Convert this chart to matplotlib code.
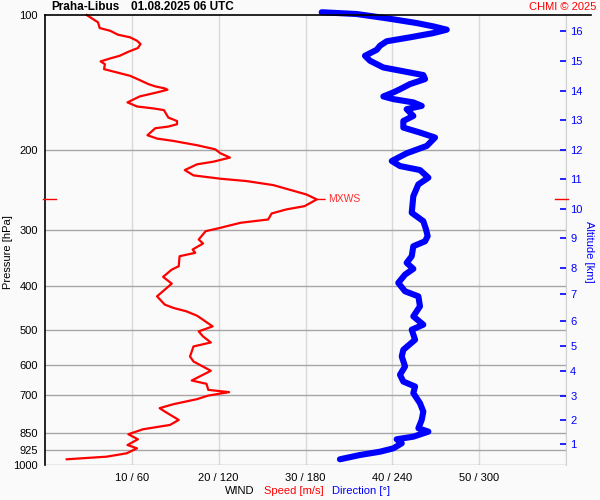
import matplotlib
matplotlib.use("Agg")
import matplotlib.pyplot as plt
import matplotlib.ticker as mticker
from matplotlib.lines import Line2D
import matplotlib.transforms as mtransforms

plt.rcParams['font.family'] = ['Liberation Sans', 'DejaVu Sans']

# ---------------- data ----------------
station = "Praha-Libus"
stamp = "01.08.2025 06 UTC"

speed_p = [100, 103.8, 106.9, 108.4, 110.6, 112.1, 114.1, 116.0, 118.4, 120.7,
           123.2, 124.9, 126.8, 128.6, 131.9, 134.2, 136.5, 139.5, 142.4, 144.1,
           145.6, 146.6, 148.6, 151.7, 156.4, 159.7, 161.3, 162.7, 169.0, 172.0,
           174.9, 177.0, 178.5, 185.0, 188.2, 190.5, 194.7, 198.8, 202.9, 207.4,
           211.8, 214.7, 221.1, 227.2, 231.1, 233.9, 238.8, 248.3, 250.5, 256.9,
           265.9, 270.4, 276.1, 284.7, 289.6, 297.1, 302.3, 315.4, 322.0, 332.0,
           337.7, 343.6, 361.7, 367.9, 381.9, 395.3, 407.6, 421.9, 440.2, 447.7,
           455.6, 465.8, 471.3, 492.0, 504.8, 518.0, 534.2, 545.2, 573.9, 588.8,
           617.5, 649.0, 660.1, 680.8, 688.8, 701.0, 714.0, 732.5, 747.6, 760.8,
           794.0, 814.6, 832.8, 854.4, 876.7, 902.8, 918.3, 941.9, 958.3, 971.2]
speed_ms = [4.8, 6.1, 6.3, 7.5, 8.4, 9.8, 10.6, 11.0, 10.7, 9.6,
            8.6, 7.5, 6.4, 6.9, 6.8, 8.3, 9.8, 10.9, 11.9, 12.7,
            13.8, 14.1, 12.9, 10.9, 9.5, 10.6, 12.5, 13.7, 14.2, 15.2,
            15.2, 14.2, 12.7, 11.8, 12.9, 14.8, 17.5, 19.6, 20.2, 21.3,
            19.4, 17.5, 16.1, 17.1, 20.2, 23.2, 26.3, 29.4, 30.1, 31.3,
            29.9, 27.8, 26.1, 25.7, 22.5, 20.2, 18.5, 17.7, 18.2, 17.0,
            17.3, 15.5, 15.4, 14.6, 13.6, 14.6, 13.8, 12.9, 13.8, 14.8,
            16.3, 17.5, 17.9, 19.3, 17.7, 18.2, 19.1, 17.1, 16.7, 17.1,
            19.1, 16.9, 18.6, 18.8, 21.2, 18.8, 17.5, 14.8, 13.2, 13.8,
            15.4, 14.4, 11.3, 9.6, 10.7, 9.5, 10.6, 9.4, 7.1, 2.5]

dir_p = [98.6, 99.5, 101.7, 104.2, 106.0, 107.8, 109.7, 112.1, 114.4, 117.0,
         119.5, 123.2, 126.4, 130.8, 133.8, 136.0, 138.8, 142.4, 146.2, 148.6,
         151.7, 153.8, 156.4, 159.2, 161.9, 167.6, 172.0, 177.9, 182.5, 187.2,
         195.4, 202.9, 211.1, 216.6, 221.1, 229.9, 237.9, 252.7, 275.1, 287.2,
         299.7, 310.1, 318.3, 326.5, 343.6, 355.4, 366.5, 377.4, 393.8, 411.2,
         421.9, 444.0, 467.4, 487.7, 500.4, 526.8, 554.6, 573.9, 603.9, 630.1,
         652.5, 669.3, 692.3, 728.8, 760.8, 794.0, 828.6, 843.1, 865.0, 876.7,
         894.9, 918.3, 934.2, 950.0, 971.2]
direction_deg = [191.2, 215.4, 236.1, 256.8, 268.3, 277.6, 268.3, 252.2, 236.1, 231.5,
                 229.2, 221.1, 224.6, 233.8, 249.9, 261.4, 262.6, 252.2, 245.3, 240.7,
                 233.8, 240.7, 254.5, 260.3, 249.9, 254.5, 247.6, 247.6, 259.1, 269.5,
                 263.8, 249.9, 239.6, 245.3, 259.1, 264.9, 258.0, 254.5, 253.4, 261.4,
                 263.3, 264.4, 262.6, 254.5, 253.4, 249.9, 254.5, 248.8, 244.1, 248.8,
                 258.0, 259.1, 254.5, 261.4, 253.4, 255.7, 247.6, 246.5, 248.8, 245.3,
                 247.6, 255.7, 254.5, 259.1, 261.4, 260.3, 258.0, 264.9, 254.5, 243.0,
                 246.5, 240.7, 231.5, 217.7, 203.8]

mxws_p = 257
mxws_speed = 31.3

p_ticks = [100, 200, 300, 400, 500, 600, 700, 850, 925, 1000]
wind_ticks = [10, 20, 30, 40, 50]
wind_labels = ["10 / 60", "20 / 120", "30 / 180", "40 / 240", "50 / 300"]
wind_grid = [10, 20, 30, 40, 50, 60]

alt_km = [1, 2, 3, 4, 5, 6, 7, 8, 9, 10, 11, 12, 13, 14, 15, 16]
alt_p = [898.1, 793.9, 702.1, 617.6, 543.3, 477.9, 416.1, 364.1, 313.8, 270.4,
         231.9, 199.8, 171.4, 147.7, 126.6, 108.6]

# ---------------- figure ----------------
W, H = 600, 500
bg = '#fafafa'
FS = 8
fig = plt.figure(figsize=(6, 5), dpi=100, facecolor=bg)
L, R, T, B = 45, 566, 15, 465
ax = fig.add_axes([L / W, 1 - B / H, (R - L) / W, (B - T) / H], facecolor=bg)
ax.set_yscale('log')
ax.set_ylim(1000, 100)
ax.set_xlim(0, 60)

# twin axes (created before tick setup, since they share scales)
axd = ax.twiny()
axa = ax.twinx()

axd.set_xlim(0, 360)
axd.axis('off')

axa.set_yscale('log')
axa.set_ylim(1000, 100)

ax.set_yscale('log')
ax.set_ylim(1000, 100)

# grid
for g in wind_grid:
    ax.axvline(g, color='#d9d9d9', lw=1.0, zorder=1)
for p in p_ticks[1:]:
    ax.axhline(p, color='#a6a6a6', lw=1.0, zorder=1)

ax.yaxis.set_major_locator(mticker.FixedLocator(p_ticks))
ax.yaxis.set_major_formatter(mticker.FixedFormatter([str(p) for p in p_ticks]))
ax.yaxis.set_minor_locator(mticker.NullLocator())
ax.tick_params(axis='y', which='both', length=0, pad=5, labelsize=FS, colors='black')
ax.set_xticks(wind_ticks)
ax.set_xticklabels(wind_labels)
ax.tick_params(axis='x', length=0, pad=6, labelsize=FS)

for s in ['top', 'bottom']:
    ax.spines[s].set_visible(False)
ax.spines['right'].set_color('#d0d0d0')
ax.spines['left'].set_color('black')
ax.spines['left'].set_linewidth(1.2)

# speed line
ax.plot(speed_ms, speed_p, color='#ff0000', lw=1.6, zorder=4, clip_on=False)

# direction line on its own 0..360 x scale
axd.plot(direction_deg, dir_p, color='#0000ff', lw=4.4, zorder=3,
         solid_capstyle='round', solid_joinstyle='round', clip_on=False)

# altitude axis
axa.yaxis.set_major_locator(mticker.FixedLocator(alt_p))
axa.yaxis.set_major_formatter(mticker.FixedFormatter([str(a) for a in alt_km]))
axa.yaxis.set_minor_locator(mticker.NullLocator())
axa.tick_params(axis='y', which='major', direction='in', length=4.5, width=1.2,
                color='#0000ff', labelcolor='#0000ff', labelsize=FS, pad=3)
axa.tick_params(axis='y', which='minor', length=0)
for s in axa.spines.values():
    s.set_visible(False)

# MXWS marker
ax.annotate("MXWS", xy=(mxws_speed, mxws_p), xytext=(8, 0),
            textcoords='offset points', va='center', ha='left',
            color='#ff3030', fontsize=7.5, zorder=5,
            arrowprops=dict(arrowstyle='-', color='#ff0000', lw=1,
                            shrinkA=0, shrinkB=0))
tr = mtransforms.blended_transform_factory(ax.transAxes, ax.transData)
ax.plot([-0.004, 0.021], [mxws_p, mxws_p], color='#ff0000', lw=1, transform=tr,
        clip_on=False, zorder=6)
ax.plot([0.979, 1.004], [mxws_p, mxws_p], color='#ff0000', lw=1, transform=tr,
        clip_on=False, zorder=6)

# top border line
fig.add_artist(Line2D([L / W, 591 / W], [1 - T / H, 1 - T / H], color='black',
                      lw=1.2))

# texts
fig.text(8 / W, 1 - 252 / H, "Pressure [hPa]", fontsize=FS, rotation=90,
         ha='center', va='center')
fig.text(589 / W, 1 - 252 / H, "Altitude [km]", fontsize=FS, rotation=270,
         ha='center', va='center', color='#0000ff')
fig.text(51 / W, 1 - 7.5 / H, station, fontsize=8.5, fontweight='bold',
         ha='left', va='center')
fig.text(131 / W, 1 - 7.5 / H, stamp, fontsize=8.5, fontweight='bold',
         ha='left', va='center')
fig.text(596 / W, 1 - 7 / H, "CHMI © 2025", fontsize=FS, color='#ff0000',
         ha='right', va='center')
fig.text(225 / W, 1 - 491 / H, "WIND", fontsize=FS, ha='left', va='center')
fig.text(264 / W, 1 - 491 / H, "Speed [m/s]", fontsize=FS, color='#ff0000',
         ha='left', va='center')
fig.text(332 / W, 1 - 491 / H, "Direction [°]", fontsize=FS, color='#0000ff',
         ha='left', va='center')

fig.savefig("out.png", dpi=100, facecolor=bg)
